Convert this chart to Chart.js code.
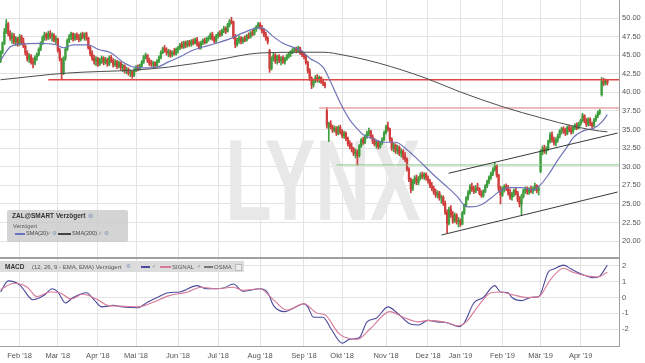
<!DOCTYPE html>
<html>
<head>
<meta charset="utf-8">
<script src="https://cdn.jsdelivr.net/npm/chart.js@4.4.1/dist/chart.umd.min.js"></script>
<style>
  body { margin: 0; background: #fff; font-family: 'Liberation Sans', Arial, sans-serif; }
  #wrap { position: relative; width: 645px; height: 363px; overflow: hidden; }
  canvas { position: absolute; left: 0; }
  #main { top: 0; }
  #macd { top: 258px; }
  .box { position: absolute; left: 7px; top: 210px; width: 121px; height: 32px; background: rgba(200,200,200,0.78); border-radius: 2px; color: #333; }
  .hdr { position: absolute; left: 0; top: 261px; width: 244px; height: 11px; background: #dcdcdc; color: #444; }
  .t { position: absolute; white-space: nowrap; line-height: 1; }
  .sw { position: absolute; height: 2px; }
  .ic { position: absolute; font-family: 'DejaVu Sans', sans-serif; line-height: 1; color: #7a8fb5; }
</style>
</head>
<body>
<div id="wrap">
  <canvas id="main" width="645" height="258"></canvas>
  <canvas id="macd" width="645" height="105"></canvas>

  <div class="box">
    <span class="t" style="left:5px;top:3px;font-size:6.5px;font-weight:bold;color:#333">ZAL@SMART Verzögert</span>
    <span class="ic" style="left:81px;top:3px;font-size:6px">⚙</span>
    <span class="t" style="left:6px;top:14px;font-size:5.6px;color:#555">Verzögert</span>
    <span class="sw" style="left:8px;top:23px;width:10px;background:#6a72c0"></span>
    <span class="t" style="left:19px;top:21px;font-size:5.6px;color:#444">SMA(20)</span>
    <span class="ic" style="left:40px;top:21px;font-size:5px;color:#777">✓</span>
    <span class="ic" style="left:45px;top:21px;font-size:5.5px">⚙</span>
    <span class="sw" style="left:51px;top:23px;width:13px;background:#444"></span>
    <span class="t" style="left:65px;top:21px;font-size:5.6px;color:#444">SMA(200)</span>
    <span class="ic" style="left:91px;top:21px;font-size:5px;color:#777">✓</span>
    <span class="ic" style="left:97px;top:21px;font-size:5.5px">⚙</span>
  </div>

  <div class="hdr">
    <span class="t" style="left:5px;top:2.5px;font-size:6.5px;font-weight:bold;color:#333">MACD</span>
    <span class="t" style="left:32px;top:3px;font-size:6px;color:#555">(12, 26, 9 - EMA, EMA) Verzögert</span>
    <span class="ic" style="left:126px;top:2.5px;font-size:5.5px">⚙</span>
    <span class="sw" style="left:141px;top:5px;width:9px;background:#4a4a9a"></span>
    <span class="ic" style="left:152px;top:3px;font-size:5px;color:#777">✓</span>
    <span class="sw" style="left:160px;top:5px;width:11px;background:#d77a9a"></span>
    <span class="t" style="left:172px;top:3px;font-size:6px;color:#555">SIGNAL</span>
    <span class="ic" style="left:197px;top:3px;font-size:5px;color:#777">✓</span>
    <span class="sw" style="left:204px;top:5px;width:9px;background:#777"></span>
    <span class="t" style="left:214px;top:3px;font-size:6px;color:#555">OSMA</span>
    <span style="position:absolute;left:235px;top:3px;width:5px;height:5px;border:1px solid #bbb;background:#eee"></span>
  </div>
</div>

<script>
// x = trading day index (0 = first candle, mid Jan 2018)
const monthTicks = [10, 30, 51, 71, 93, 114, 136, 159, 179, 202, 224, 241, 263, 283, 304];
const monthLabels = ["Feb '18", "Mar '18", "Apr '18", "Mai '18", "Jun '18", "Jul '18", "Aug '18", "Sep '18",
  "Okt '18", "Nov '18", "Dez '18", "Jan '19", "Feb '19", "Mär '19", "Apr '19"];
const priceTicks = [20, 22.5, 25, 27.5, 30, 32.5, 35, 37.5, 40, 42.5, 45, 47.5, 50];
const macdTicks = [-2, -1, 0, 1, 2];

// [open, high, low, close]
const candles = [
  [44.2,45.6,44.0,45.4],[45.4,46.8,45.2,46.6],[46.6,48.6,46.4,48.2],[48.2,49.8,47.9,49.2],[49.2,49.4,47.6,47.9],[47.9,48.3,47.0,47.3],[47.3,48.0,46.6,47.6],[47.6,47.9,46.5,46.8],[46.8,47.5,46.3,47.2],[47.2,47.4,46.2,46.5],
  [46.5,47.8,46.3,47.5],[47.5,47.7,46.4,46.7],[46.7,47.3,46.0,46.2],[46.2,46.4,45.0,45.3],[45.3,45.6,44.2,44.5],[44.5,45.2,44.0,44.9],[44.9,45.1,43.8,44.1],[44.1,44.6,43.3,43.9],[43.9,44.9,43.7,44.7],[44.7,45.3,44.3,45.1],
  [45.1,46.0,44.9,45.8],[45.8,46.8,45.6,46.6],[46.6,47.6,46.4,47.4],[47.4,48.1,47.0,47.8],[47.8,48.0,47.0,47.3],[47.3,48.2,47.1,47.9],[47.9,48.3,47.2,47.5],[47.5,48.0,46.9,47.7],[47.7,47.9,46.8,47.0],[47.0,47.6,46.5,47.2],
  [47.2,47.3,45.4,45.6],[45.6,45.9,44.2,44.5],[44.4,44.6,41.7,42.5],[42.6,44.8,42.4,44.6],[44.6,46.0,44.3,45.8],[45.8,47.2,45.6,47.0],[47.0,47.8,46.7,47.5],[47.5,48.1,47.1,47.9],[47.9,48.0,46.9,47.2],[47.2,47.9,47.0,47.7],
  [47.7,48.0,47.1,47.4],[47.4,47.8,46.8,47.1],[47.1,48.0,46.9,47.8],[47.8,48.1,47.2,47.4],[47.4,48.0,47.0,47.9],[47.9,48.1,47.0,47.3],[47.3,47.4,45.8,46.0],[46.0,46.3,44.9,45.2],[45.2,45.6,44.3,44.6],[44.6,45.0,43.8,44.2],
  [44.2,44.8,43.6,44.5],[44.5,44.7,43.5,43.8],[43.8,44.6,43.6,44.3],[44.3,44.9,43.9,44.6],[44.6,44.8,43.7,44.0],[44.0,44.7,43.8,44.4],[44.4,44.6,43.5,43.8],[43.8,44.9,43.6,44.7],[44.7,45.0,44.0,44.2],[44.2,44.5,43.4,43.7],
  [43.7,44.4,43.5,44.1],[44.1,44.3,43.2,43.5],[43.5,44.2,43.3,44.0],[44.0,44.1,43.0,43.3],[43.3,43.8,42.8,43.6],[43.6,43.7,42.6,42.9],[42.9,43.4,42.5,43.1],[43.1,43.3,42.3,42.6],[42.6,43.0,42.1,42.8],[42.8,42.9,41.9,42.3],
  [42.3,43.2,42.1,43.0],[43.0,43.6,42.8,43.4],[43.4,43.7,42.9,43.1],[43.1,43.8,43.0,43.6],[43.6,44.3,43.4,44.1],[44.1,45.0,43.9,44.8],[44.8,45.3,44.5,45.0],[45.0,45.1,44.0,44.3],[44.3,44.6,43.6,43.9],[43.9,44.3,43.5,43.8],
  [43.8,44.2,43.3,44.0],[44.0,44.1,43.4,43.6],[43.6,44.4,43.5,44.2],[44.2,44.9,44.0,44.7],[44.7,45.6,44.5,45.4],[45.4,46.1,45.2,45.9],[45.9,46.3,45.4,45.6],[45.6,46.0,45.0,45.3],[45.3,45.8,44.8,45.5],[45.5,45.7,44.7,45.0],
  [45.0,45.6,44.8,45.4],[45.4,45.9,45.0,45.2],[45.2,46.0,45.0,45.8],[45.8,46.2,45.3,46.0],[46.0,46.6,45.7,46.4],[46.4,46.8,45.9,46.1],[46.1,46.9,45.9,46.7],[46.7,46.9,46.0,46.3],[46.3,47.0,46.1,46.8],[46.8,47.0,46.2,46.4],
  [46.4,47.1,46.2,46.9],[46.9,47.2,46.4,46.6],[46.6,47.3,46.5,47.1],[47.1,47.4,46.2,46.5],[46.5,46.8,45.8,46.0],[46.0,46.9,45.8,46.7],[46.7,47.2,46.4,47.0],[47.0,47.3,46.5,46.7],[46.7,47.4,46.6,47.2],[47.2,47.6,46.9,47.4],
  [47.4,48.0,47.1,47.8],[47.8,48.1,47.0,47.2],[47.2,47.5,46.6,46.9],[46.9,47.8,46.7,47.6],[47.6,48.1,47.3,47.9],[47.9,48.3,47.5,47.7],[47.7,48.5,47.6,48.3],[48.3,48.9,48.0,48.6],[48.6,48.8,47.9,48.2],[48.2,49.3,48.1,49.1],
  [49.1,49.8,48.8,49.6],[49.6,50.1,49.2,49.5],[49.5,49.6,47.2,47.5],[47.5,47.8,46.0,46.4],[46.4,47.3,46.2,47.0],[47.0,47.6,46.6,47.3],[47.3,47.5,46.5,46.8],[46.8,47.4,46.6,47.2],[47.2,47.6,46.8,47.0],[47.0,47.8,46.9,47.6],
  [47.6,48.0,47.2,47.4],[47.4,48.2,47.3,48.0],[48.0,48.4,47.6,47.8],[47.8,48.7,47.7,48.5],[48.5,49.0,48.2,48.8],[48.8,49.4,48.6,49.2],[49.2,49.4,48.5,48.7],[48.7,49.0,48.0,48.3],[48.3,48.6,47.5,47.8],[47.8,48.1,47.0,47.3],
  [47.3,47.5,46.5,46.8],[45.6,45.8,42.7,43.2],[43.2,44.8,43.0,44.5],[44.5,45.3,44.2,45.0],[45.0,45.2,43.9,44.2],[44.2,45.0,43.8,44.8],[44.8,45.1,44.0,44.3],[44.3,44.8,43.7,44.6],[44.6,44.9,43.9,44.1],[44.1,44.7,43.8,44.5],
  [44.5,45.1,44.3,44.9],[44.9,45.4,44.6,45.2],[45.2,45.6,44.8,45.5],[45.5,45.9,45.2,45.7],[45.7,46.0,45.4,45.9],[45.9,46.1,45.3,45.6],[45.6,46.2,45.4,46.0],[46.0,46.1,45.1,45.3],[45.3,45.6,44.8,45.1],[45.1,45.4,44.5,44.8],
  [44.8,45.0,43.8,44.0],[44.0,44.2,42.6,42.9],[42.9,43.2,41.6,41.9],[41.9,42.1,40.5,41.0],[41.0,41.8,40.7,41.5],[41.5,42.3,41.3,42.0],[42.0,42.4,41.4,41.7],[41.7,42.2,41.3,42.0],[42.0,42.1,41.2,41.4],[41.4,41.8,40.9,41.2],
  [41.2,41.4,40.6,40.9],[37.5,38.0,35.2,35.6],[35.4,36.0,33.4,35.8],[35.8,36.2,35.1,35.3],[35.3,35.6,34.6,34.9],[34.9,35.5,34.7,35.2],[35.2,35.4,34.2,34.5],[34.5,35.5,34.3,35.3],[35.3,35.6,34.4,34.7],[34.7,35.0,33.9,34.2],
  [34.2,34.8,33.8,34.5],[34.5,34.7,33.5,33.8],[33.8,34.0,32.8,33.1],[33.1,33.5,32.4,32.7],[32.7,33.2,32.0,32.4],[32.4,32.6,31.5,31.8],[31.8,32.4,31.2,32.0],[32.0,32.3,30.2,31.5],[31.5,33.0,31.3,32.8],[32.8,33.8,32.6,33.6],
  [33.6,34.0,33.0,33.3],[33.3,34.3,33.1,34.1],[34.1,34.8,33.8,34.5],[34.5,35.2,34.2,34.8],[34.8,34.9,33.8,34.0],[34.0,34.3,33.1,33.4],[33.4,33.8,32.8,33.0],[33.0,33.6,32.5,33.3],[33.3,33.5,32.4,32.7],[32.7,33.4,32.5,33.2],
  [33.2,33.9,33.0,33.7],[33.7,34.8,33.5,34.6],[34.6,35.6,34.4,35.4],[35.4,36.0,34.8,35.1],[35.1,35.2,33.4,33.7],[33.7,33.9,32.2,32.5],[32.5,33.2,32.0,32.9],[32.9,33.1,31.8,32.1],[32.1,32.9,31.7,32.6],[32.6,32.8,31.5,31.8],
  [31.8,32.4,31.3,32.1],[32.1,32.3,31.0,31.4],[31.4,31.9,30.7,31.0],[31.0,31.2,29.4,29.7],[29.7,29.9,28.0,28.3],[28.3,28.5,26.5,27.0],[27.0,28.3,26.8,28.1],[28.1,28.8,27.7,28.5],[28.5,28.9,27.6,27.9],[27.9,28.7,27.6,28.4],
  [28.4,29.2,28.2,28.9],[28.9,29.3,28.4,28.7],[28.7,29.2,28.3,29.0],[29.0,29.2,28.2,28.5],[28.5,28.8,27.8,28.1],[28.1,28.3,27.2,27.5],[27.5,27.9,26.8,27.1],[27.1,27.4,26.3,26.6],[26.6,27.0,25.9,26.2],[26.2,26.8,25.8,26.5],
  [26.5,26.7,25.5,25.8],[25.8,26.2,25.1,25.9],[25.9,26.1,24.8,25.1],[25.1,25.4,23.6,23.9],[23.9,24.2,21.1,22.4],[22.4,24.6,22.2,24.3],[24.3,24.8,23.2,23.5],[23.5,24.0,22.4,22.7],[22.7,23.8,22.5,23.5],[23.5,23.7,22.3,22.6],
  [22.6,23.2,21.9,22.8],[22.8,23.0,22.0,22.3],[22.3,24.0,22.2,23.8],[23.8,25.0,23.6,24.8],[24.8,26.0,24.6,25.8],[25.8,26.8,25.5,26.5],[26.5,27.6,26.3,27.3],[27.3,27.8,26.7,27.0],[27.0,27.4,26.4,26.7],[26.7,27.5,26.5,27.2],
  [27.2,27.8,26.8,27.0],[27.0,27.2,26.2,26.4],[26.4,26.8,25.9,26.1],[26.1,26.9,25.9,26.7],[26.7,27.6,26.5,27.4],[27.4,28.2,27.2,28.0],[28.0,28.8,27.7,28.6],[28.6,29.3,28.3,29.1],[29.1,29.9,28.8,29.6],[29.6,30.6,29.4,30.2],
  [30.2,30.3,28.6,28.9],[28.9,29.0,26.7,27.1],[27.1,27.4,25.0,26.2],[26.2,27.3,26.0,27.0],[27.0,27.6,26.6,27.4],[27.4,27.7,26.8,27.1],[27.1,27.5,26.2,26.5],[26.5,27.0,25.6,25.9],[25.9,26.6,25.5,26.3],[26.3,27.0,26.0,26.8],
  [26.8,27.2,26.2,26.5],[26.5,26.7,25.3,25.6],[25.6,26.0,24.6,25.0],[25.0,26.3,23.5,26.0],[26.0,27.0,25.8,26.8],[26.8,27.3,26.4,27.0],[27.0,27.3,26.3,26.6],[26.6,27.2,26.3,27.0],[27.0,27.4,26.5,26.7],[26.7,27.3,26.4,27.1],
  [27.1,27.8,26.8,27.5],[27.5,27.6,26.5,26.8],[26.8,27.4,26.2,27.1],[29.4,32.3,29.2,32.0],[32.0,32.8,31.6,32.5],[32.5,32.9,31.8,32.1],[32.1,32.7,31.7,32.4],[32.4,33.6,32.2,33.4],[33.4,34.6,33.2,34.3],[34.3,34.7,33.3,33.6],
  [33.6,34.0,32.9,33.2],[33.2,33.9,32.8,33.6],[33.6,34.4,33.3,34.1],[34.1,35.0,33.9,34.8],[34.8,35.3,34.4,35.1],[35.1,35.4,34.5,34.8],[34.8,35.2,34.2,34.5],[34.5,35.5,34.3,35.3],[35.3,35.6,34.7,35.0],[35.0,35.4,34.4,34.7],
  [34.7,35.5,34.5,35.3],[35.3,35.8,35.0,35.6],[35.6,35.9,35.0,35.2],[35.2,36.0,35.1,35.8],[35.8,36.4,35.5,36.2],[36.2,37.2,36.0,36.9],[36.9,37.0,35.9,36.2],[36.2,36.5,35.4,35.7],[35.7,36.6,35.5,36.4],[36.4,36.6,35.5,35.8],
  [35.8,36.0,35.2,35.5],[35.5,36.5,35.4,36.3],[36.3,37.0,36.1,36.8],[36.8,37.5,36.6,37.3],[37.3,37.7,37.0,37.5],[39.7,42.0,39.5,41.5],[41.5,41.9,40.9,41.2],[41.2,41.8,41.0,41.6],[41.6,41.7,41.0,41.3]
];

// [index, value]
const sma20 = [[0,44.35],[5,46.1],[10,46.5],[21,46.6],[29,46.4],[33,46.0],[38,46.4],[46,46.4],[51,45.8],[58,45.3],
  [64,44.1],[70,43.4],[75,43.3],[82,43.4],[88,44.1],[94,44.8],[101,45.7],[106,46.1],[113,46.6],[121,47.3],[127,48.0],
  [136,48.7],[139,48.4],[142,47.7],[148,46.6],[154,46.0],[157,45.7],[162,44.6],[169,43.4],[173,41.4],[178,38.6],
  [183,36.3],[187,35.1],[190,34.3],[194,33.9],[201,33.3],[207,33.3],[213,32.3],[219,30.9],[223,29.9],[227,28.9],
  [234,27.3],[240,25.8],[243,24.8],[246,24.6],[252,24.9],[257,25.8],[261,26.6],[266,27.2],[273,27.2],[279,26.9],
  [283,27.6],[287,28.9],[292,30.9],[297,32.7],[300,33.9],[306,34.9],[311,35.2],[315,36.0],[318,37.0]];
const sma200 = [[0,41.7],[35,42.6],[70,43.0],[88,43.4],[113,44.35],[136,45.3],[159,45.4],[169,45.4],[180,45.0],
  [198,43.95],[223,41.9],[241,40.05],[264,38.0],[283,36.6],[302,35.35],[314,34.8],[318,34.7]];

const levelStart = [25, 167, 176];
const levelPrice = [41.7, 37.9, 30.25];
const channelUpper = [[234.8, 29.13], [323.4, 34.54]];
const channelLower = [[231.1, 20.83], [323.4, 26.61]];

const macdLine = [[0,0.35],[4,1.05],[10,0.8],[17,-0.15],[23,0.15],[27,0.55],[30,0.35],[34,-0.35],[38,0],[45,0.3],
  [49,-0.15],[53,-0.6],[59,-0.5],[64,-0.6],[72,-0.65],[77,-0.3],[82,0],[88,0.3],[94,0.35],[103,0.75],[108,0.55],
  [113,0.55],[117,0.6],[122,0.85],[127,0.4],[136,0.55],[140,0.3],[143,-0.5],[149,-0.9],[154,-0.65],[159,-0.4],
  [161,-0.6],[164,-1.25],[169,-1.25],[173,-1.95],[179,-2.9],[183,-2.65],[188,-2.55],[192,-1.55],[197,-1.3],
  [203,-0.6],[208,-1.0],[215,-1.7],[219,-1.75],[224,-1.45],[229,-1.55],[234,-1.6],[240,-1.85],[243,-1.6],
  [248,-0.35],[253,0],[259,0.75],[262,0.35],[266,0.3],[268,0],[273,-0.2],[278,0],[282,0.05],[287,1.6],[290,1.8],
  [295,2.05],[299,1.8],[304,1.5],[311,1.25],[314,1.35],[318,2.05]];
const signalLine = [[0,0.5],[7,0.9],[14,0.65],[19,0.05],[26,0.35],[31,0.3],[37,-0.1],[43,0.2],[51,-0.15],[56,-0.5],
  [63,-0.55],[72,-0.6],[79,-0.35],[88,0.1],[98,0.35],[105,0.65],[113,0.55],[122,0.65],[127,0.45],[136,0.55],
  [143,-0.15],[150,-0.8],[159,-0.4],[166,-1.0],[170,-1.1],[177,-2.25],[180,-2.5],[187,-2.65],[194,-1.95],
  [204,-0.9],[211,-1.25],[219,-1.55],[224,-1.45],[234,-1.6],[240,-1.8],[244,-1.55],[250,-0.6],[257,0.3],
  [262,0.35],[269,0.15],[276,0],[282,0.05],[288,1.1],[295,1.85],[300,1.6],[308,1.35],[313,1.3],[318,1.6]];

const GREEN = '#3f9f3f';
const RED = '#cf3d3d';
const GRID = '#e3e3e3';
const FONT = "'Liberation Sans', Arial, sans-serif";
const xMin = -0.3, xMax = 324.1;

const pts = (arr) => arr.map(([x, y]) => ({ x, y }));
const candleColor = candles.map((c) => (c[3] >= c[0] ? GREEN : RED));

function lineSet(data, color, width, extra) {
  return Object.assign({
    type: 'line', data: pts(data), borderColor: color, borderWidth: width,
    pointRadius: 0, fill: false, order: 1,
  }, extra || {});
}

const frame = {
  id: 'frame',
  afterDraw(chart, args, opts) {
    const { ctx, chartArea: a } = chart;
    ctx.save();
    ctx.strokeStyle = opts.color;
    ctx.lineWidth = 1;
    ctx.beginPath();
    const r = Math.round(a.right) + 0.5, t = Math.round(a.top) + 0.5, b = Math.round(a.bottom) - 0.5;
    if (opts.sides.includes('right')) { ctx.moveTo(r, a.top); ctx.lineTo(r, a.bottom); }
    if (opts.sides.includes('top')) { ctx.moveTo(a.left, t); ctx.lineTo(r, t); }
    if (opts.sides.includes('bottom')) { ctx.moveTo(a.left, b); ctx.lineTo(r, b); }
    ctx.stroke();
    ctx.restore();
  },
};

const watermark = {
  id: 'watermark',
  beforeDatasetsDraw(chart) {
    const ctx = chart.ctx;
    ctx.save();
    ctx.translate(323, 220);
    ctx.scale(0.66, 1);
    ctx.font = `bold 115px ${FONT}`;
    ctx.textAlign = 'center';
    ctx.fillStyle = '#e8e8e8';
    ctx.fillText('LYNX', 0, 0);
    ctx.restore();
  },
};

function noPad(s) {
  s.paddingLeft = 0; s.paddingRight = 0; s.paddingTop = 0; s.paddingBottom = 0;
}

function xScale(showLabels) {
  return {
    type: 'linear', min: xMin, max: xMax, offset: false,
    afterBuildTicks: (s) => { s.ticks = monthTicks.map((v) => ({ value: v })); },
    afterFit: (s) => { s.height = showLabels ? 16 : 0; noPad(s); },
    grid: { color: GRID, drawTicks: false, offset: false },
    border: { display: false },
    ticks: {
      display: showLabels, autoSkip: false, maxRotation: 0, padding: 4,
      color: '#555', font: { family: FONT, size: 7.5 },
      callback: (v) => monthLabels[monthTicks.indexOf(v)],
    },
  };
}

function yScale(min, max, ticks, fmt) {
  return {
    type: 'linear', position: 'right', min, max,
    afterBuildTicks: (s) => { s.ticks = ticks.map((v) => ({ value: v })); },
    afterFit: (s) => { s.width = 26; noPad(s); },
    grid: { color: GRID, drawTicks: false },
    border: { display: false },
    ticks: { padding: 3, color: '#555', font: { family: FONT, size: 7.5 }, callback: fmt },
  };
}

const levelColors = ['#e04848', '#e6a4a4', '#86c886'];
const levelWidths = [1.6, 1.6, 1];
const levelSets = levelStart.map((s, k) =>
  lineSet([[s, levelPrice[k]], [xMax, levelPrice[k]]], levelColors[k], levelWidths[k], { order: 2 }));

new Chart(document.getElementById('main'), {
  type: 'bar',
  data: {
    datasets: [
      {
        data: candles.map((c, i) => ({ x: i, y: [c[2], c[1]] })),
        backgroundColor: candleColor, barThickness: 1, grouped: false, order: 4,
      },
      {
        data: candles.map((c, i) => ({ x: i, y: [c[0], c[3]] })),
        backgroundColor: candleColor, barThickness: 1.6, grouped: false, order: 3,
      },
      ...levelSets,
      lineSet(channelUpper, '#3a3a3a', 1),
      lineSet(channelLower, '#3a3a3a', 1),
      lineSet(sma200, '#4d4d4d', 1, { cubicInterpolationMode: 'monotone' }),
      lineSet(sma20, '#6f74b8', 1.2, { cubicInterpolationMode: 'monotone' }),
    ],
  },
  options: {
    responsive: false, animation: false, devicePixelRatio: 1,
    layout: { padding: 0, autoPadding: false },
    plugins: { legend: { display: false }, tooltip: { enabled: false }, frame: { color: '#a0a0a0', sides: ['right', 'bottom'] } },
    scales: {
      x: xScale(false),
      y: yScale(17.74, 52.42, priceTicks, (v) => v.toFixed(2)),
    },
  },
  plugins: [watermark, frame],
});

new Chart(document.getElementById('macd'), {
  type: 'line',
  data: {
    datasets: [
      lineSet(signalLine, '#d77a9a', 1.1, { cubicInterpolationMode: 'monotone' }),
      lineSet(macdLine, '#4a4a9a', 1.1, { cubicInterpolationMode: 'monotone' }),
    ],
  },
  options: {
    responsive: false, animation: false, devicePixelRatio: 1,
    layout: { padding: 0, autoPadding: false },
    plugins: { legend: { display: false }, tooltip: { enabled: false }, frame: { color: '#a0a0a0', sides: ['right', 'top', 'bottom'] } },
    scales: {
      x: xScale(true),
      y: yScale(-3.14, 2.5, macdTicks, (v) => String(v)),
    },
  },
  plugins: [frame],
});
</script>
</body>
</html>
